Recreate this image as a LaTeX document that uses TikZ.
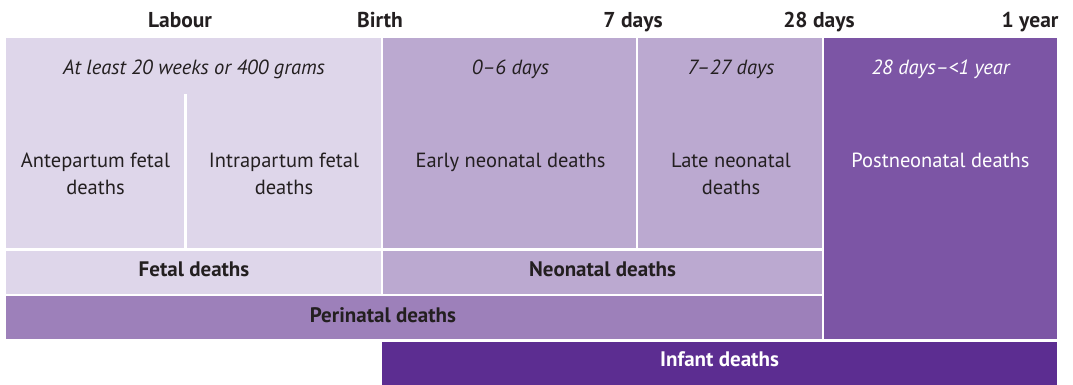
\documentclass[tikz,border=0pt]{standalone}
\usepackage{fontspec}
\setmainfont{PT Sans}
\usepackage{tikz}
\usetikzlibrary{positioning}
\definecolor{LilacPale}{HTML}{DED6EA}
\definecolor{LilacMid}{HTML}{BBA9D0}
\definecolor{LilacPeri}{HTML}{9D80BA}
\definecolor{VioletPost}{HTML}{7C55A5}
\definecolor{VioletInfant}{HTML}{5C2D91}
\definecolor{InkDark}{HTML}{231F20}

\begin{document}
\begin{tikzpicture}[x=1pt,y=-1pt,
		mark label/.style={anchor=base,font=\fontsize{21.5}{25}\selectfont\bfseries,text=InkDark},
		span label/.style={anchor=base,font=\fontsize{20.5}{24}\selectfont\itshape,text=InkDark},
		death label/.style={anchor=north,align=center,inner sep=0pt,font=\fontsize{20.5}{27}\selectfont,text=InkDark},
		row label/.style={anchor=base,font=\fontsize{21}{25}\selectfont\bfseries,text=InkDark}]
		\useasboundingbox (0,0) rectangle (1073,385);
		% boxes
		\fill[LilacPale] (6,38) rectangle (380.5,248);
		\fill[LilacMid] (383,38) rectangle (635.5,248);
		\fill[LilacMid] (637.5,38) rectangle (822,248);
		\fill[VioletPost] (824,38) rectangle (1057,339);
		\fill[LilacPale] (6,250.5) rectangle (380.5,293.5);
		\fill[LilacMid] (383,250.5) rectangle (822,293.5);
		\fill[LilacPeri] (6,296) rectangle (822,339);
		\fill[VioletInfant] (382,342) rectangle (1057,385);
		\draw[white,line width=2.5pt] (185.5,94) -- (185.5,248);
		% time points
		\node[mark label] (labour) at (180,28) {Labour};
		\node[mark label] (birth) at (380,28) {Birth};
		\node[mark label] (week) at (633,28) {7 days};
		\node[mark label] (month) at (819,28) {28 days};
		\node[mark label,anchor=base east] (year) at (1062,28) {1 year};
		% spans
		\node[span label] (gestation) at (194,75) {At least 20 weeks or 400 grams};
		\node[span label] (earlyspan) at (510.5,75) {0--6 days};
		\node[span label] (latespan) at (731,75) {7--27 days};
		\node[span label,text=white] (postspan) at (940.5,75) {28 days--<1 year};
		% death types
		\node[death label] (antepartum) at (95.5,153) {Antepartum fetal\\deaths};
		\node[death label] (intrapartum) at (284,153) {Intrapartum fetal\\deaths};
		\node[death label] (early) at (510.5,153) {Early neonatal deaths};
		\node[death label] (late) at (731,153) {Late neonatal\\deaths};
		\node[death label,text=white] (postneo) at (940.5,153) {Postneonatal deaths};
		% groupings
		\node[row label] (fetal) at (194,276.5) {Fetal deaths};
		\node[row label] (neonatal) at (602.5,276.5) {Neonatal deaths};
		\node[row label] (perinatal) at (383,322.5) {Perinatal deaths};
		\node[row label,text=white] (infant) at (719.5,366) {Infant deaths};
	\end{tikzpicture}
\end{document}
